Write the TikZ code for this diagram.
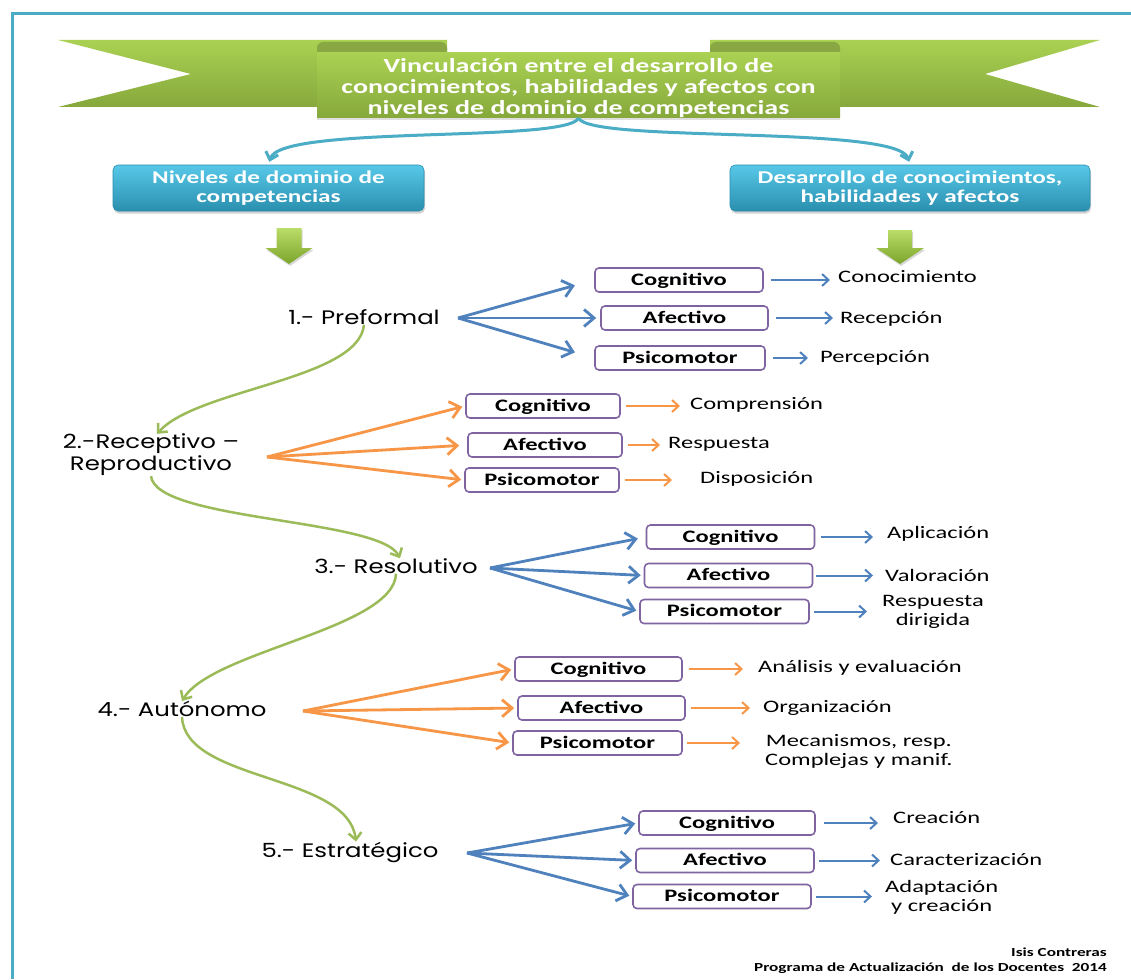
\documentclass[tikz,border=0pt]{standalone}
\usepackage{fontspec}
\usetikzlibrary{arrows.meta,shadows}
\setmainfont{Carlito}
\newfontfamily\calw[FakeStretch=1.4]{Carlito}
\newfontfamily\handw[FakeStretch=1.25]{Poppins}

\definecolor{frameteal}{HTML}{4BACC6}
\definecolor{linkblue}{HTML}{4F81BD}
\definecolor{linkorange}{HTML}{F79646}
\definecolor{linkgreen}{HTML}{9BBB59}
\definecolor{boxpurple}{HTML}{8064A2}
\definecolor{ribbonlight}{HTML}{AAD152}
\definecolor{ribbondark}{HTML}{86A83C}
\definecolor{rolldark}{HTML}{89A844}
\definecolor{headtop}{HTML}{58C8E8}
\definecolor{headbot}{HTML}{2A8FAF}
\definecolor{arrowtop}{HTML}{BADC68}
\definecolor{arrowbot}{HTML}{7CA52B}

\begin{document}
\begin{tikzpicture}[x=1pt,y=-1pt,
  panelbox/.style={minimum width=523pt, minimum height=65pt, inner sep=0pt,
    top color=ribbonlight, bottom color=ribbondark,
    drop shadow={opacity=0.25, shadow xshift=0pt, shadow yshift=-2pt}},
  titletext/.style={align=center, text=white, inner sep=0pt,
    font=\calw\bfseries\fontsize{20}{21}\selectfont},
  headbox/.style={rounded corners=5pt, top color=headtop, bottom color=headbot,
    draw=headbot, line width=0.6pt, minimum height=46pt, inner sep=0pt,
    align=center, text=white, font=\calw\bfseries\fontsize{18}{19}\selectfont,
    drop shadow={opacity=0.35, shadow xshift=1pt, shadow yshift=-2.5pt}},
  levelbox/.style={draw=boxpurple, line width=1.6pt, rounded corners=4pt,
    fill=white, minimum height=24pt, inner sep=0pt, text height=12.5pt,
    text depth=2.5pt, font=\calw\bfseries\fontsize{17.5}{18}\selectfont},
  outcome/.style={anchor=base west, inner sep=0pt,
    font=\calw\fontsize{17.5}{19}\selectfont},
  outcometwo/.style={anchor=west, align=center, inner sep=0pt,
    font=\calw\fontsize{17.5}{19}\selectfont},
  level/.style={inner sep=0pt, align=center,
    font=\handw\fontsize{19.5}{22}\selectfont},
  credit/.style={anchor=base east, align=right, inner sep=0pt,
    font=\calw\bfseries\fontsize{12.3}{15}\selectfont},
  headlink/.style={draw=frameteal, line width=3pt,
    -{Straight Barb[length=7pt,width=13pt]}},
  stepline/.style={draw=linkgreen, line width=2.5pt,
    -{Straight Barb[length=7pt,width=13pt]}},
  fanblue/.style={draw=linkblue, line width=2.8pt,
    -{Straight Barb[length=10pt,width=17pt]}},
  fanorange/.style={draw=linkorange, line width=2.8pt,
    -{Straight Barb[length=10pt,width=17pt]}},
  outblue/.style={draw=linkblue, line width=2pt,
    -{Straight Barb[length=6.5pt,width=12pt]}},
  outorange/.style={draw=linkorange, line width=2pt,
    -{Straight Barb[length=6.5pt,width=12pt]}}
]
\useasboundingbox (0,0) rectangle (1131,979);
\fill[white] (0,0) rectangle (1131,979);

% page frame
\draw[frameteal, line width=3pt] (1131,13.5) -- (12,13.5) -- (12,979);

% ribbon wings and rolls behind the front panel
\shade[top color=ribbonlight, bottom color=ribbondark]
  (58,40) -- (447,40) -- (447,107) -- (58,107) -- (191,74) -- cycle;
\shade[top color=ribbonlight, bottom color=ribbondark]
  (1100,40) -- (710,40) -- (710,107) -- (1100,107) -- (985,74) -- cycle;
\fill[rolldark, rounded corners=6pt] (317,42) rectangle (447,57);
\fill[rolldark, rounded corners=6pt] (710,42) rectangle (840,57);

% title panel
\node[panelbox] (panel) at (578.5,85.5) {};
\node[titletext] (title) at (578.5,88.5)
  {Vinculación entre el desarrollo de\\conocimientos, habilidades y afectos con\\niveles de dominio de competencias};

% two headings
\node[headbox, minimum width=311pt] (niveles) at (268.5,188)
  {Niveles de dominio de\\competencias};
\node[headbox, minimum width=360pt] (desarrollo) at (910,188)
  {Desarrollo de conocimientos,\\habilidades y afectos};

\draw[headlink, shorten >=3pt] (panel.south) .. controls +(-13,25) and +(12,-40) .. (niveles.north);
\draw[headlink, shorten >=3pt] (panel.south) .. controls +(13,25) and +(-12,-40) .. (desarrollo.north);

% block arrows under the headings
\shade[top color=arrowtop, bottom color=arrowbot,
  drop shadow={opacity=0.3, shadow xshift=1pt, shadow yshift=-2pt}]
  (276.5,228) -- (301.5,228) -- (301.5,248) -- (312.5,248) -- (289,264)
  -- (265.5,248) -- (276.5,248) -- cycle;
\shade[top color=arrowtop, bottom color=arrowbot,
  drop shadow={opacity=0.3, shadow xshift=1pt, shadow yshift=-2pt}]
  (888,230) -- (912,230) -- (912,248) -- (924,248) -- (900,264)
  -- (876,248) -- (888,248) -- cycle;

% levels of mastery
\node[level] (L1) at (364,317) {1.- Preformal};
\node[level] (L2) at (151,455) {2.-Receptivo –\\Reproductivo};
\node[level] (L3) at (396,566) {3.- Resolutivo};
\node[level] (L4) at (182,709) {4.- Autónomo};
\node[level] (L5) at (350,852) {5.- Estratégico};

\draw[stepline] (L1.south) .. controls +(-5,55) and +(40,-45) .. ([xshift=6pt]L2.north);
\draw[stepline] (L2.south) .. controls +(5,45) and +(-20,-40) .. ([xshift=4pt]L3.north);
\draw[stepline] (L3.south) .. controls +(-2,55) and +(30,-50) .. (L4.north);
\draw[stepline] (L4.south) .. controls +(3,65) and +(-8,-68) .. ([xshift=6pt]L5.north);

% level 1
\coordinate (o1) at (458,318);
\node[levelbox, minimum width=168pt] (c1) at (679,280) {Cognitivo};
\node[levelbox, minimum width=167pt] (a1) at (684.5,318) {Afectivo};
\node[levelbox, minimum width=170pt] (p1) at (680,358) {Psicomotor};
\node[outcome] (r1c) at (838,282.5) {Conocimiento};
\node[outcome] (r1a) at (840,323.5) {Recepción};
\node[outcome] (r1p) at (820,362.5) {Percepción};
\draw[fanblue, shorten >=20pt] (o1) -- (c1.west);
\draw[fanblue, shorten >=4pt] (o1) -- (a1.west);
\draw[fanblue, shorten >=20pt] (o1) -- (p1.west);
\draw[outblue, shorten <=7pt, shorten >=8pt] (c1.east) -- (c1.east -| r1c.west);
\draw[outblue, shorten <=7pt, shorten >=7pt] (a1.east) -- (a1.east -| r1a.west);
\draw[outblue, shorten <=7pt, shorten >=12pt] (p1.east) -- (p1.east -| r1p.west);

% level 2
\coordinate (o2) at (267,457);
\node[levelbox, minimum width=154pt] (c2) at (543,406) {Cognitivo};
\node[levelbox, minimum width=154pt] (a2) at (545,445) {Afectivo};
\node[levelbox, minimum width=154pt] (p2) at (542,480) {Psicomotor};
\node[outcome] (r2c) at (690,409.5) {Comprensión};
\node[outcome] (r2a) at (668,448.5) {Respuesta};
\node[outcome] (r2p) at (700,483.5) {Disposición};
\draw[fanorange, shorten >=3pt] (o2) -- (c2.west);
\draw[fanorange, shorten >=8pt] (o2) -- (a2.west);
\draw[fanorange, shorten >=3pt] (o2) -- (p2.west);
\draw[outorange, shorten <=5pt, shorten >=10pt] (c2.east) -- (c2.east -| r2c.west);
\draw[outorange, shorten <=5pt, shorten >=8pt] (a2.east) -- (a2.east -| r2a.west);
\draw[outorange, shorten <=5pt, shorten >=28pt] (p2.east) -- (p2.east -| r2p.west);

% level 3
\coordinate (o3) at (490,568);
\node[levelbox, minimum width=168pt] (c3) at (730.5,537) {Cognitivo};
\node[levelbox, minimum width=168pt] (a3) at (728.5,575.5) {Afectivo};
\node[levelbox, minimum width=169pt] (p3) at (724.5,611.5) {Psicomotor};
\node[outcome] (r3c) at (887,538.5) {Aplicación};
\node[outcome] (r3a) at (885,581.5) {Valoración};
\node[outcometwo] (r3p) at (882,612) {Respuesta\\dirigida};
\draw[fanblue, shorten >=8pt] (o3) -- (c3.west);
\draw[fanblue, shorten >=3pt] (o3) -- (a3.west);
\draw[fanblue, shorten >=3pt] (o3) -- (p3.west);
\draw[outblue, shorten <=6pt, shorten >=14pt] (c3.east) -- (c3.east -| r3c.west);
\draw[outblue, shorten <=3pt, shorten >=12pt] (a3.east) -- (a3.east -| r3a.west);
\draw[outblue, shorten <=4pt, shorten >=15pt] (p3.east) -- (p3.east -| r3p.west);

% level 4
\coordinate (o4) at (303,711);
\node[levelbox, minimum width=167pt] (c4) at (598.5,669) {Cognitivo};
\node[levelbox, minimum width=167pt] (a4) at (601.5,708) {Afectivo};
\node[levelbox, minimum width=169pt] (p4) at (597.5,743) {Psicomotor};
\node[outcome] (r4c) at (758,672.5) {Análisis y evaluación};
\node[outcome] (r4a) at (763,712.5) {Organización};
\node[outcometwo] (r4p) at (765,751) {Mecanismos, resp.\\Complejas y manif.};
\draw[fanorange, shorten >=3pt] (o4) -- (c4.west);
\draw[fanorange, shorten >=3pt] (o4) -- (a4.west);
\draw[fanorange, shorten >=3pt] (o4) -- (p4.west);
\draw[outorange, shorten <=6pt, shorten >=15pt] (c4.east) -- (c4.east -| r4c.west);
\draw[outorange, shorten <=5pt, shorten >=13pt] (a4.east) -- (a4.east -| r4a.west);
\draw[outorange, shorten <=4pt, shorten >=25pt] (p4.east) -- (p4.east -| r4p.west);

% level 5
\coordinate (o5) at (467,853);
\node[levelbox, minimum width=176pt] (c5) at (727,823) {Cognitivo};
\node[levelbox, minimum width=178pt] (a5) at (725,860.5) {Afectivo};
\node[levelbox, minimum width=178pt] (p5) at (722,896.5) {Psicomotor};
\node[outcome] (r5c) at (893,823.5) {Creación};
\node[outcome] (r5a) at (890,865.5) {Caracterización};
\node[outcometwo] (r5p) at (885,897) {Adaptación\\y creación};
\draw[fanblue, shorten >=3pt] (o5) -- (c5.west);
\draw[fanblue, shorten >=3pt] (o5) -- (a5.west);
\draw[fanblue, shorten >=3pt] (o5) -- (p5.west);
\draw[outblue, shorten <=8pt, shorten >=15pt] (c5.east) -- (c5.east -| r5c.west);
\draw[outblue, shorten <=4pt, shorten >=10pt] (a5.east) -- (a5.east -| r5a.west);
\draw[outblue, shorten <=4pt, shorten >=13pt] (p5.east) -- (p5.east -| r5p.west);

% author credit
\node[credit] (credit) at (1107,971)
  {Isis Contreras\\Programa de Actualización\ \ de los Docentes\ \ 2014};
\end{tikzpicture}
\end{document}
